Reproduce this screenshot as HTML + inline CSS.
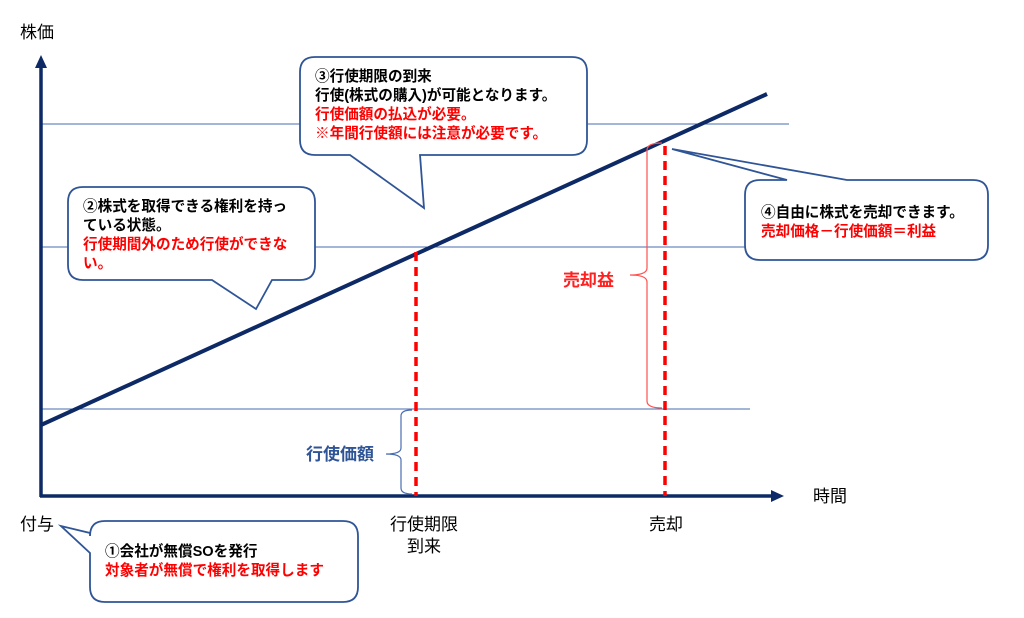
<!DOCTYPE html>
<html><head><meta charset="utf-8"><style>
html,body{margin:0;padding:0;background:#fff;width:1024px;height:618px;overflow:hidden}
svg text{font-family:"Liberation Sans","Noto Sans CJK JP",sans-serif}
.b{font-weight:bold;font-size:14.6px}
</style></head><body>
<svg width="1024" height="618" viewBox="0 0 1024 618" xmlns="http://www.w3.org/2000/svg">
<g stroke="#4a6db0" stroke-width="1">
<line x1="41" y1="124" x2="789" y2="124"/>
<line x1="41" y1="247" x2="766" y2="247"/>
<line x1="41" y1="409" x2="750" y2="409"/>
</g>
<g stroke="#0d2a66" stroke-width="3.5" fill="#0d2a66">
<line x1="41" y1="497" x2="41" y2="66"/>
<line x1="40" y1="496" x2="772" y2="496"/>
</g>
<polygon points="41,55 35,68 47,68" fill="#0d2a66"/>
<polygon points="784,496 771,490 771,502" fill="#0d2a66"/>
<line x1="41" y1="425" x2="767" y2="94" stroke="#0d2a66" stroke-width="4"/>
<g stroke="#ff0000" stroke-width="3.5" stroke-dasharray="9,6">
<line x1="416" y1="252" x2="416" y2="496"/>
<line x1="665" y1="146" x2="665" y2="496"/>
</g>
<path d="M662,143 Q647,143 647,150 L647,268 Q647,275 630,275 Q647,275 647,282 L647,401 Q647,408 662,408" fill="none" stroke="#ff5050" stroke-width="1.2"/>
<path d="M412,410 Q401,410 401,416 L401,448 Q401,454 386,454 Q401,454 401,460 L401,488 Q401,494 412,494" fill="none" stroke="#4a6db0" stroke-width="1.2"/>
<g fill="#fff" stroke="#2f5597" stroke-width="1.8">
<path d="M315,57 H572 Q587,57 587,72 V140 Q587,155 572,155 H420 L424,208 L350,155 H315 Q300,155 300,140 V72 Q300,57 315,57 Z"/>
<path d="M83,187 H300 Q315,187 315,202 V265 Q315,280 300,280 H272 L256,309 L212,280 H83 Q68,280 68,265 V202 Q68,187 83,187 Z"/>
<path d="M760,180 H787 L672,149 L847,180 H973 Q988,180 988,195 V245 Q988,260 973,260 H760 Q745,260 745,245 V195 Q745,180 760,180 Z"/>
<path d="M105,521 H343 Q358,521 358,536 V587 Q358,602 343,602 H105 Q90,602 90,587 V553 L61,526 L90,533 V536 Q90,521 105,521 Z"/>
</g>
<g class="b">
<text x="315" y="81" fill="#000">③行使期限の到来</text>
<text x="315" y="100" fill="#000">行使(株式の購入)が可能となります。</text>
<text x="315" y="119" fill="#f00">行使価額の払込が必要。</text>
<text x="315" y="138" fill="#f00">※年間行使額には注意が必要です。</text>
<text x="83" y="211" fill="#000">②株式を取得できる権利を持っ</text>
<text x="83" y="230" fill="#000">ている状態。</text>
<text x="83" y="249" fill="#f00">行使期間外のため行使ができな</text>
<text x="83" y="268" fill="#f00">い。</text>
<text x="761" y="217" fill="#000">④自由に株式を売却できます。</text>
<text x="761" y="236" fill="#f00">売却価格－行使価額＝利益</text>
<text x="105" y="556" fill="#000">①会社が無償SOを発行</text>
<text x="105" y="575" fill="#f00">対象者が無償で権利を取得します</text>
</g>
<g font-size="17" font-weight="bold">
<text x="563" y="286" fill="#ff2020">売却益</text>
<text x="306" y="460" fill="#2f5597">行使価額</text>
</g>
<g font-size="17" fill="#000">
<text x="20" y="38">株価</text>
<text x="813" y="502">時間</text>
<text x="20" y="530">付与</text>
<text x="424" y="530" text-anchor="middle">行使期限</text>
<text x="424" y="552" text-anchor="middle">到来</text>
<text x="666" y="530" text-anchor="middle">売却</text>
</g>
</svg>
</body></html>
